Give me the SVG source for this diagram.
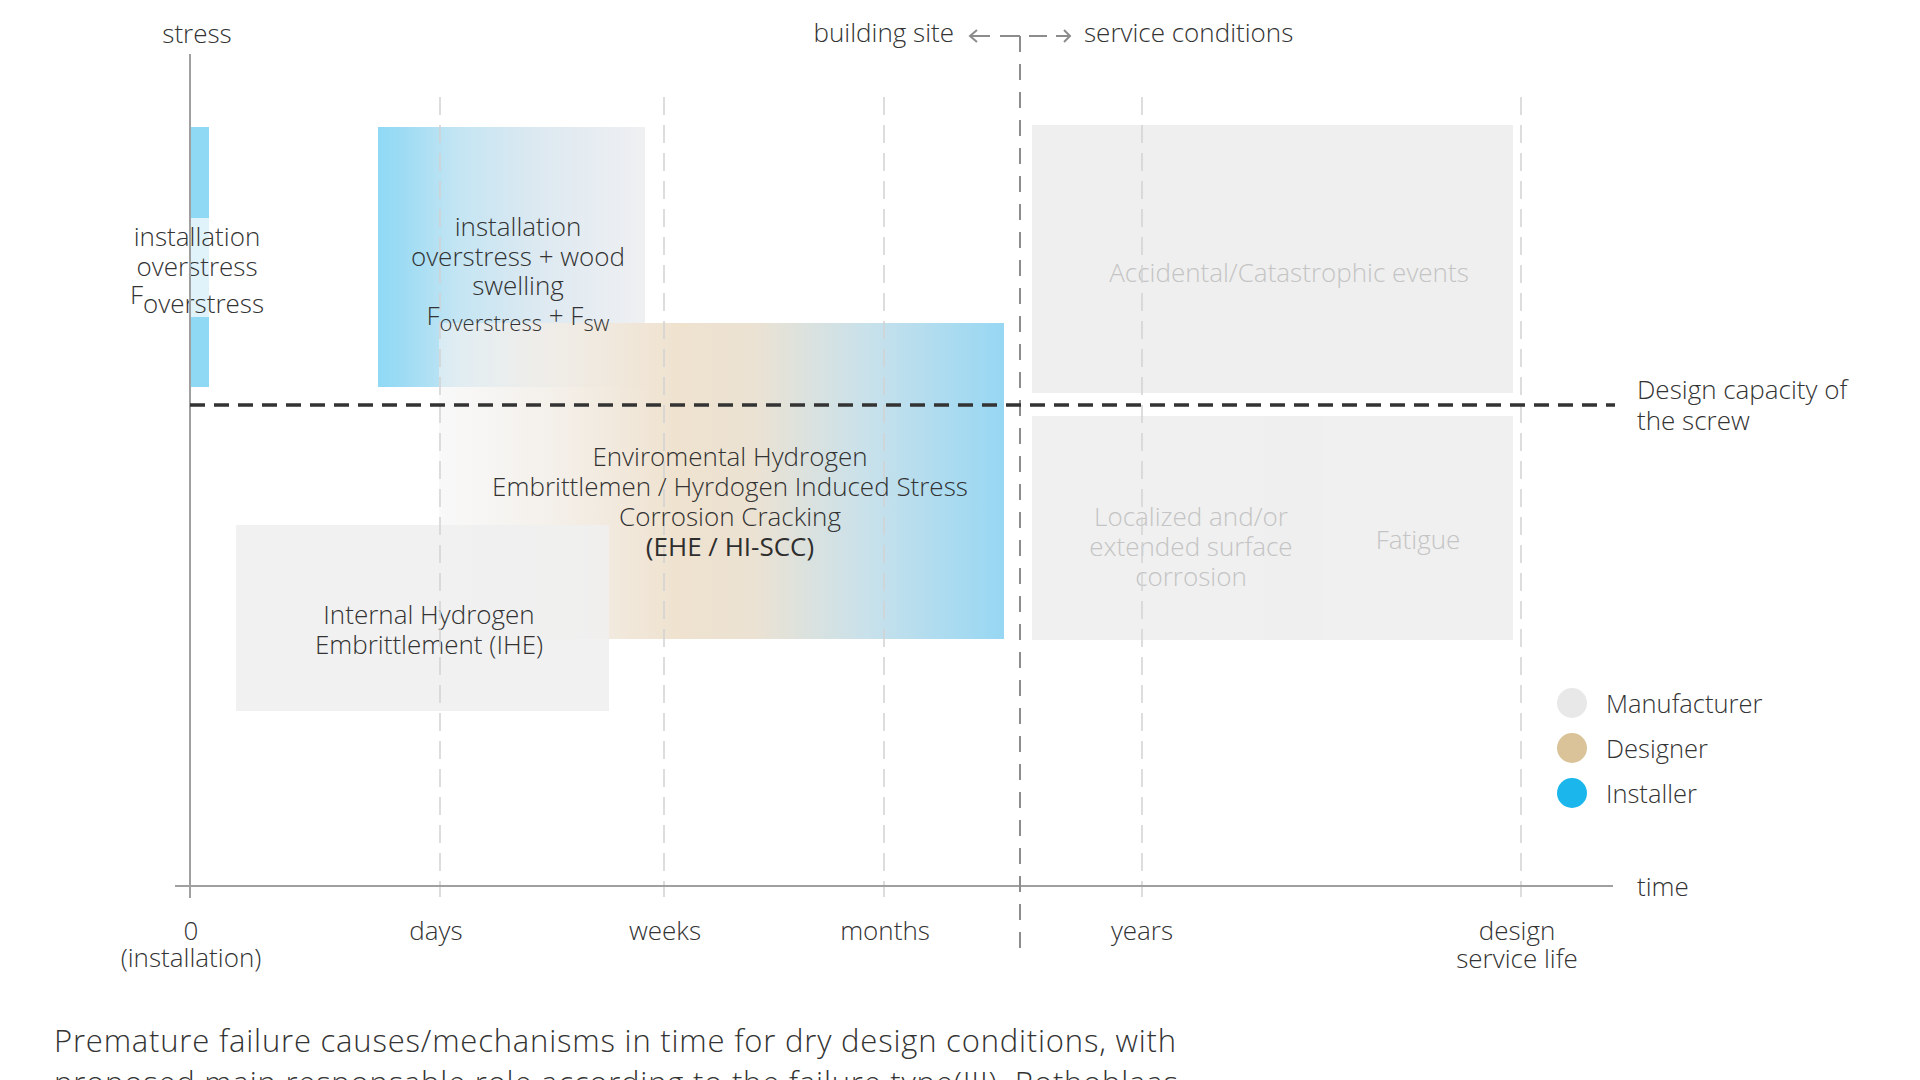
<svg xmlns="http://www.w3.org/2000/svg" width="1920" height="1080" viewBox="0 0 1920 1080">
<style>
text{font-family:"Open Sans",Lato,"Liberation Sans",sans-serif;font-weight:300;fill:#333;font-size:26px}
.c{text-anchor:middle}
.faint{fill:#c4c4c4}
.lg{font-size:25.5px}
.box{fill:#efefef}
.grid{stroke:#d2d2d2;stroke-width:1.5;stroke-dasharray:18 10;fill:none}
.axis{stroke:#a0a0a0;stroke-width:2;fill:none}
.site{stroke:#8c8c8c;stroke-width:2;fill:none}
.cap{stroke:#333;stroke-width:3.5;stroke-dasharray:15 9;fill:none}
.cap2{font-size:31px}
</style>
<defs>
<linearGradient id="gInst" x1="0" y1="0" x2="1" y2="0">
<stop offset="0" stop-color="#8fd9f5"/>
<stop offset="0.08" stop-color="#9bdbf4"/>
<stop offset="0.3" stop-color="#c4e5f3"/>
<stop offset="0.6" stop-color="#dde9f1"/>
<stop offset="1" stop-color="#eff0f2"/>
</linearGradient>
<linearGradient id="gEHE" x1="0" y1="0" x2="1" y2="0">
<stop offset="0" stop-color="#f3f3f3" stop-opacity="0.55"/>
<stop offset="0.2" stop-color="#f2ede6" stop-opacity="0.85"/>
<stop offset="0.42" stop-color="#efe2cf"/>
<stop offset="0.56" stop-color="#ebe2d3"/>
<stop offset="0.76" stop-color="#c8e1eb"/>
<stop offset="1" stop-color="#97d7f3"/>
</linearGradient>
</defs>
<rect width="1920" height="1080" fill="#fff"/>

<g id="installation-overstress">
<rect x="190" y="127" width="19" height="260" fill="#8fd9f5"/>
<rect x="190" y="218" width="19" height="99" fill="#e0f3fb"/>
<text class="c" x="197" y="246">installation</text>
<text class="c" x="197" y="276">overstress</text>
<text class="c" x="197" y="304">F<tspan dy="9">overstress</tspan></text>
</g>

<g id="installation-swelling">
<rect x="378" y="127" width="267" height="260" fill="url(#gInst)"/>
</g>

<g id="ehe">
<rect x="439" y="323" width="565" height="316" fill="url(#gEHE)"/>
</g>

<g id="ihe">
<rect x="236" y="525" width="373" height="186" fill="#efefef" fill-opacity="0.9"/>
<text class="c" x="429" y="624">Internal Hydrogen</text>
<text class="c" x="429" y="654">Embrittlement (IHE)</text>
</g>

<g id="accidental">
<rect class="box" x="1032" y="125" width="481" height="268"/>
<text class="c faint" x="1289" y="282">Accidental/Catastrophic events</text>
</g>

<g id="fatigue">
<rect class="box" x="1264" y="416" width="249" height="224" fill-opacity="0.92"/>
<text class="c faint" x="1418" y="549">Fatigue</text>
</g>

<g id="corrosion">
<rect class="box" x="1032" y="416" width="291" height="224" fill-opacity="0.92"/>
<text class="c faint" x="1191" y="526">Localized and/or</text>
<text class="c faint" x="1191" y="556">extended surface</text>
<text class="c faint" x="1191" y="586">corrosion</text>
</g>

<g id="connectors">
<path class="grid" d="M440,97V897M664,97V897M884,97V897M1142,97V897M1521,97V897"/>
<path class="axis" d="M190,54V898M175,886H1613"/>
<path class="site" d="M1020,36V948" stroke-dasharray="16 12"/>
<path class="site" stroke="#999" d="M970,36H990M977,30L970,36L977,42M1000,36H1020M1029,36H1047M1056,36H1070M1064,30L1070,36L1064,42"/>
<path class="cap" d="M190,405H1615"/>
</g>

<g id="labels-over">
<text class="c" x="518" y="236">installation</text>
<text class="c" x="518" y="266">overstress + wood</text>
<text class="c" x="518" y="295">swelling</text>
<text class="c" x="518" y="325">F<tspan dy="6" font-size="22">overstress</tspan><tspan dy="-6"> + F</tspan><tspan dy="6" font-size="22">sw</tspan></text>
<text class="c" x="730" y="466">Enviromental Hydrogen</text>
<text class="c" x="730" y="496">Embrittlemen / Hyrdogen Induced Stress</text>
<text class="c" x="730" y="526">Corrosion Cracking</text>
<text class="c" x="730" y="556" style="font-weight:400;fill:#2e2e2e">(EHE / HI-SCC)</text>
</g>

<g id="axis-labels">
<text class="c" x="197" y="43">stress</text>
<text x="954" y="42" text-anchor="end">building site</text>
<text x="1084" y="42">service conditions</text>
<text x="1637" y="896">time</text>
<text x="1637" y="399">Design capacity of</text>
<text x="1637" y="430">the screw</text>
<text class="c" x="191" y="940">0</text>
<text class="c" x="191" y="967">(installation)</text>
<text class="c" x="436" y="940">days</text>
<text class="c" x="665" y="940">weeks</text>
<text class="c" x="885" y="940">months</text>
<text class="c" x="1142" y="940">years</text>
<text class="c" x="1517" y="940">design</text>
<text class="c" x="1517" y="968">service life</text>
</g>

<g id="legend">
<circle cx="1572" cy="703" r="15" fill="#e8e8e8"/>
<circle cx="1572" cy="748" r="15" fill="#dac398"/>
<circle cx="1572" cy="793" r="15" fill="#1ab6ec"/>
<text class="lg" x="1606" y="713">Manufacturer</text>
<text class="lg" x="1606" y="758">Designer</text>
<text class="lg" x="1606" y="803">Installer</text>
</g>

<g id="caption">
<text class="cap2" x="54" y="1052" textLength="1122" lengthAdjust="spacing">Premature failure causes/mechanisms in time for dry design conditions, with</text>
<text class="cap2" x="54" y="1094" textLength="1124" lengthAdjust="spacing">proposed main responsable role according to the failure type(III). Rothoblaas</text>
</g>
</svg>
